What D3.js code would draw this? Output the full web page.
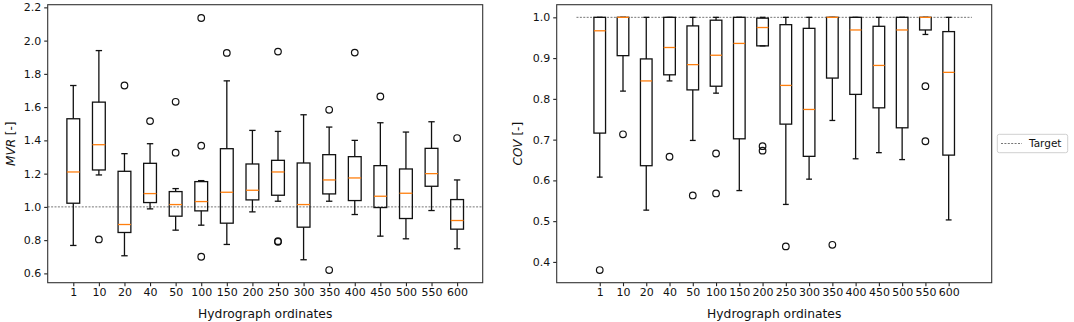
<!DOCTYPE html>
<html>
<head>
<meta charset="utf-8">
<script src="https://cdn.jsdelivr.net/npm/d3@7"></script>
<style>
  body { margin: 0; background: #fff; }
  svg { display: block; font-family: 'DejaVu Sans', sans-serif; }
</style>
</head>
<body>
<div id="graf"></div>
<script>
// categorias del eje x (ordenadas del hidrograma)
const ordenadas = ['1', '10', '20', '40', '50', '100', '150', '200', '250', '300', '350', '400', '450', '500', '550', '600']

// MVR: bigotes, cuartiles, mediana y atipicos
const mvrLow = [0.768, 1.192, 0.706, 0.988, 0.86, 0.89, 0.774, 0.97, 1.034, 0.682, 1.034, 0.954, 0.824, 0.808, 0.978, 0.748]
const mvrQ1 = [1.022, 1.222, 0.846, 1.026, 0.944, 0.976, 0.902, 1.042, 1.07, 0.878, 1.078, 1.038, 0.996, 0.93, 1.124, 0.866]
const mvrMed = [1.21, 1.374, 0.894, 1.08, 1.014, 1.032, 1.088, 1.10, 1.21, 1.014, 1.162, 1.174, 1.064, 1.082, 1.20, 0.918]
const mvrQ3 = [1.53, 1.63, 1.214, 1.262, 1.092, 1.152, 1.35, 1.258, 1.28, 1.264, 1.314, 1.302, 1.248, 1.228, 1.352, 1.044]
const mvrHigh = [1.73, 1.94, 1.32, 1.38, 1.11, 1.158, 1.758, 1.46, 1.454, 1.554, 1.48, 1.40, 1.506, 1.45, 1.512, 1.162]
const mvrOut = [[], [0.804], [1.73], [1.516], [1.632, 1.326], [2.136, 1.368, 0.70], [1.926], [], [1.934, 0.794, 0.79], [], [1.584, 0.62], [1.928], [1.664], [], [], [1.414]]

// COV
const covLow = [0.608, 0.819, 0.527, 0.844, 0.698, 0.814, 0.575, 0.93, 0.541, 0.603, 0.747, 0.653, 0.668, 0.651, 0.958, 0.503]
const covQ1 = [0.716, 0.906, 0.636, 0.859, 0.822, 0.831, 0.702, 0.93, 0.738, 0.659, 0.851, 0.811, 0.778, 0.729, 0.969, 0.662]
const covMed = [0.967, 1.0, 0.844, 0.926, 0.884, 0.907, 0.936, 0.975, 0.833, 0.774, 1.0, 0.969, 0.882, 0.969, 1.0, 0.865]
const covQ3 = [1.0, 1.0, 0.898, 1.0, 0.979, 0.993, 1.0, 0.998, 0.982, 0.973, 1.0, 1.0, 0.978, 1.0, 1.0, 0.965]
const covHigh = [1.0, 1.0, 1.0, 1.0, 1.0, 1.0, 1.0, 1.0, 1.0, 1.0, 1.0, 1.0, 1.0, 1.0, 1.0, 1.0]
const covOut = [[0.38], [0.713], [], [0.658], [0.563], [0.666, 0.568], [], [0.684, 0.673], [0.438], [], [0.442], [], [], [], [0.831, 0.696], []]

const mvrTicks = [0.6, 0.8, 1.0, 1.2, 1.4, 1.6, 1.8, 2.0, 2.2]
const covTicks = [0.4, 0.5, 0.6, 0.7, 0.8, 0.9, 1.0]
const objetivo = 1.0

const anchoTotal = 1074
const altoTotal = 322

const svg = d3.select('#graf')
  .append('svg')
  .attr('width', anchoTotal)
  .attr('height', altoTotal)

function panel(cfg) {
  const x = d3.scaleLinear().domain(cfg.xDom).range([cfg.left, cfg.right])
  const y = d3.scaleLinear().domain(cfg.yDom).range([cfg.bottom, cfg.top])
  const g = svg.append('g')

  // linea objetivo
  g.append('line')
    .attr('x1', x(0)).attr('x2', x(17))
    .attr('y1', y(objetivo)).attr('y2', y(objetivo))
    .attr('stroke', '#666')
    .attr('stroke-width', 0.9)
    .attr('stroke-dasharray', '2,1.4')

  const datos = ordenadas.map((c, i) => ({
    pos: i + 1, low: cfg.low[i], q1: cfg.q1[i], med: cfg.med[i],
    q3: cfg.q3[i], high: cfg.high[i], out: cfg.out[i]
  }))

  const w = x(1.25) - x(1)
  const cap = x(1.125) - x(1)
  const sw = 1.3

  const cajas = g.selectAll('g.caja').data(datos).enter()
    .append('g').attr('class', 'caja')

  cajas.append('line')
    .attr('x1', d => x(d.pos)).attr('x2', d => x(d.pos))
    .attr('y1', d => y(d.q3)).attr('y2', d => y(d.high))
    .attr('stroke', '#111').attr('stroke-width', sw)
  cajas.append('line')
    .attr('x1', d => x(d.pos)).attr('x2', d => x(d.pos))
    .attr('y1', d => y(d.q1)).attr('y2', d => y(d.low))
    .attr('stroke', '#111').attr('stroke-width', sw)
  cajas.append('line')
    .attr('x1', d => x(d.pos) - cap).attr('x2', d => x(d.pos) + cap)
    .attr('y1', d => y(d.high)).attr('y2', d => y(d.high))
    .attr('stroke', '#111').attr('stroke-width', sw)
  cajas.append('line')
    .attr('x1', d => x(d.pos) - cap).attr('x2', d => x(d.pos) + cap)
    .attr('y1', d => y(d.low)).attr('y2', d => y(d.low))
    .attr('stroke', '#111').attr('stroke-width', sw)
  cajas.append('rect')
    .attr('x', d => x(d.pos) - w)
    .attr('y', d => y(d.q3))
    .attr('width', 2 * w)
    .attr('height', d => y(d.q1) - y(d.q3))
    .attr('fill', 'none').attr('stroke', '#111').attr('stroke-width', sw)
  cajas.append('line')
    .attr('x1', d => x(d.pos) - w).attr('x2', d => x(d.pos) + w)
    .attr('y1', d => y(d.med)).attr('y2', d => y(d.med))
    .attr('stroke', '#ff7f0e').attr('stroke-width', 1.3)

  cajas.selectAll('circle')
    .data(d => d.out.map(v => ({ pos: d.pos, v: v })))
    .enter().append('circle')
    .attr('cx', d => x(d.pos)).attr('cy', d => y(d.v))
    .attr('r', 3.3)
    .attr('fill', 'none').attr('stroke', '#111').attr('stroke-width', 1.2)

  // ejes
  const ejeY = g.append('g')
    .attr('transform', `translate(${cfg.left},0)`)
    .call(d3.axisLeft(y).tickValues(cfg.ticks).tickFormat(d3.format('.1f')).tickSize(3.5).tickPadding(3))
  const ejeX = g.append('g')
    .attr('transform', `translate(0,${cfg.bottom})`)
    .call(d3.axisBottom(x).tickValues(d3.range(1, 17)).tickFormat(d => ordenadas[d - 1]).tickSize(3.5).tickPadding(2.5))
  for (const eje of [ejeX, ejeY]) {
    eje.select('.domain').remove()
    eje.selectAll('line').attr('stroke', '#222').attr('stroke-width', 1.1)
    eje.selectAll('text').attr('font-size', 11).attr('fill', '#111').attr('font-family', 'DejaVu Sans')
  }

  // marco
  g.append('rect')
    .attr('x', cfg.left).attr('y', cfg.top)
    .attr('width', cfg.right - cfg.left).attr('height', cfg.bottom - cfg.top)
    .attr('fill', 'none').attr('stroke', '#333').attr('stroke-width', 1.1)

  g.append('text')
    .attr('x', (cfg.left + cfg.right) / 2).attr('y', 318)
    .attr('text-anchor', 'middle').attr('font-size', 12.3).attr('fill', '#111')
    .text('Hydrograph ordinates')

  const yl = g.append('text')
    .attr('transform', `translate(${cfg.ylX},${(cfg.top + cfg.bottom) / 2}) rotate(-90)`)
    .attr('text-anchor', 'middle').attr('font-size', 12).attr('fill', '#111')
  yl.append('tspan').attr('font-style', 'italic').text(cfg.name)
  yl.append('tspan').text(' [-]')
}

panel({
  left: 47.7, right: 482.7, top: 4.7, bottom: 282.7,
  xDom: [0, 17], yDom: [0.544, 2.216], ticks: mvrTicks, name: 'MVR', ylX: 14.5,
  low: mvrLow, q1: mvrQ1, med: mvrMed, q3: mvrQ3, high: mvrHigh, out: mvrOut
})

panel({
  left: 556.7, right: 991.7, top: 4.7, bottom: 282.7,
  xDom: [-0.85, 17.85], yDom: [0.349, 1.031], ticks: covTicks, name: 'COV', ylX: 522,
  low: covLow, q1: covQ1, med: covMed, q3: covQ3, high: covHigh, out: covOut
})

// leyenda
const ley = svg.append('g')
ley.append('rect')
  .attr('x', 997.3).attr('y', 134.3).attr('width', 70.4).attr('height', 18.4)
  .attr('rx', 2).attr('fill', '#fff').attr('stroke', '#d0d0d0').attr('stroke-width', 1)
ley.append('line')
  .attr('x1', 1001).attr('x2', 1022).attr('y1', 143.5).attr('y2', 143.5)
  .attr('stroke', '#666').attr('stroke-width', 0.9).attr('stroke-dasharray', '2,1.4')
ley.append('text')
  .attr('x', 1029).attr('y', 147.3).attr('font-size', 10.5).attr('fill', '#111')
  .text('Target')
</script>
</body>
</html>
